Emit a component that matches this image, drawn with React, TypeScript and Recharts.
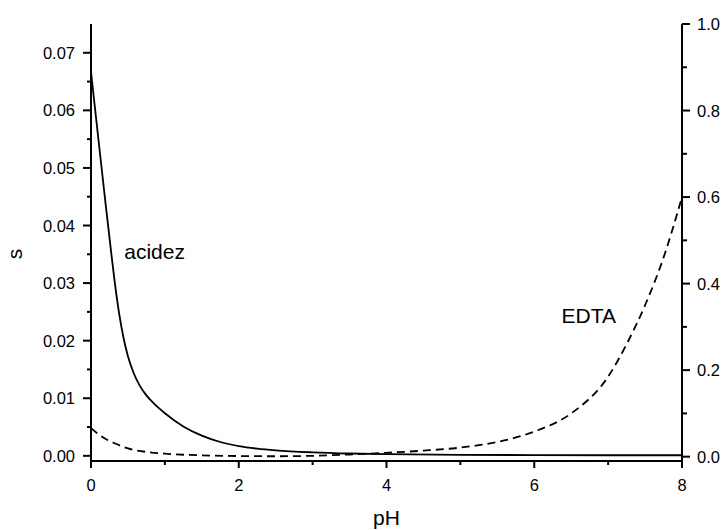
import { LineChart, XAxis, YAxis, Line, ReferenceDot } from "recharts";

const FONT = "'Liberation Sans', Arial, sans-serif";

// solid curve, left axis
const acidezPH = [0, 0.1, 0.2, 0.27, 0.32, 0.38, 0.44, 0.5, 0.58, 0.66, 0.75, 0.85, 1.0, 1.25, 1.5, 1.75, 2.0, 2.25, 2.5, 3.0, 3.5, 4.0, 5.0, 6.0, 7.0, 8.0];
const acidezS = [0.0667, 0.055, 0.0435, 0.0357, 0.0303, 0.0248, 0.0205, 0.0173, 0.0143, 0.0122, 0.0105, 0.0091, 0.0074, 0.0051, 0.0035, 0.0024, 0.0017, 0.00125, 0.00095, 0.0006, 0.0004, 0.0003, 0.00018, 0.00012, 0.0001, 0.0001];

// dashed curve, right axis
const edtaPH = [0, 0.1, 0.23, 0.32, 0.5, 0.8, 1.0, 1.5, 2.0, 2.5, 3.0, 3.5, 4.0, 4.5, 5.0, 5.5, 6.0, 6.5, 7.0, 7.25, 7.5, 7.75, 8.0];
const edtaV = [0.066, 0.052, 0.038, 0.031, 0.019, 0.01, 0.007, 0.003, 0.0015, 0.001, 0.002, 0.005, 0.009, 0.014, 0.021, 0.034, 0.058, 0.1, 0.185, 0.26, 0.35, 0.46, 0.6];

const xTicks = [0, 1, 2, 3, 4, 5, 6, 7, 8];
const leftTicks = [0, 0.005, 0.01, 0.015, 0.02, 0.025, 0.03, 0.035, 0.04, 0.045, 0.05, 0.055, 0.06, 0.065, 0.07];
const rightTicks = [0, 0.1, 0.2, 0.3, 0.4, 0.5, 0.6, 0.7, 0.8, 0.9, 1.0];

const acidezData = acidezPH.map((p, i) => ({ pH: p, s: acidezS[i] }));
const edtaData = edtaPH.map((p, i) => ({ pH: p, v: edtaV[i] }));

const tickText = { fontFamily: FONT, fontSize: 16.5, fill: "#000" };

const BottomTick = (props: any) => {
  const { x, y, payload } = props;
  const major = Math.round(payload.value) % 2 === 0;
  return (
    <g>
      <line x1={x} x2={x} y1={y} y2={y + (major ? 7 : 4)} stroke="#000" strokeWidth={2} />
      {major && (
        <text x={x} y={y + 30} textAnchor="middle" {...tickText}>
          {payload.value}
        </text>
      )}
    </g>
  );
};

const TopTick = (props: any) => {
  const { x, y, payload } = props;
  const major = Math.round(payload.value) % 2 === 0;
  return <line x1={x} x2={x} y1={y} y2={y + (major ? 8 : 4)} stroke="#000" strokeWidth={2} />;
};

const LeftTick = (props: any) => {
  const { x, y, payload } = props;
  const major = Math.round(payload.value * 1000) % 10 === 0;
  return (
    <g>
      <line x1={x - (major ? 8 : 4)} x2={x} y1={y} y2={y} stroke="#000" strokeWidth={2} />
      {major && (
        <text x={x - 16} y={y + 6} textAnchor="end" {...tickText}>
          {payload.value.toFixed(2)}
        </text>
      )}
    </g>
  );
};

const RightTick = (props: any) => {
  const { x, y, payload } = props;
  const major = Math.round(payload.value * 10) % 2 === 0;
  return (
    <g>
      <line x1={x} x2={x + (major ? 8 : 5)} y1={y} y2={y} stroke="#000" strokeWidth={2} />
      {major && (
        <text x={x + 15} y={y + 6} textAnchor="start" {...tickText}>
          {payload.value.toFixed(1)}
        </text>
      )}
    </g>
  );
};

const axisLine = { stroke: "#000", strokeWidth: 2 };

export default function App() {
  return (
    <div style={{ position: "absolute", left: 0, top: 0, background: "#fff" }}>
      <LineChart width={724} height={530} margin={{ top: 24, right: 0, bottom: 0, left: 0 }}>
        <XAxis
          dataKey="pH"
          type="number"
          domain={[0, 8]}
          ticks={xTicks}
          interval={0}
          height={69}
          tickSize={0}
          tickMargin={0}
          tickLine={false}
          axisLine={axisLine}
          tick={BottomTick}
          allowDataOverflow
          label={{
            content: ({ viewBox }: any) => (
              <text
                x={viewBox.x + viewBox.width / 2}
                y={viewBox.y + 64}
                textAnchor="middle"
                fontFamily={FONT}
                fontSize={21}
                fill="#000"
              >
                pH
              </text>
            ),
          }}
        />
        <XAxis
          xAxisId="top"
          orientation="top"
          type="number"
          domain={[0, 8]}
          ticks={xTicks}
          interval={0}
          height={0}
          tickSize={0}
          tickMargin={0}
          tickLine={false}
          axisLine={axisLine}
          tick={TopTick}
          allowDataOverflow
        />
        <YAxis
          yAxisId="left"
          type="number"
          domain={[-0.0009, 0.075]}
          ticks={leftTicks}
          interval={0}
          width={91}
          tickSize={0}
          tickMargin={0}
          tickLine={false}
          axisLine={axisLine}
          tick={LeftTick}
          allowDataOverflow
          label={{
            content: ({ viewBox }: any) => (
              <text
                x={viewBox.x + 22}
                y={254}
                transform={`rotate(-90, ${viewBox.x + 22}, 254)`}
                textAnchor="middle"
                fontFamily={FONT}
                fontSize={21}
                fill="#000"
              >
                s
              </text>
            ),
          }}
        />
        <YAxis
          yAxisId="right"
          orientation="right"
          type="number"
          domain={[-0.01, 1.0]}
          ticks={rightTicks}
          interval={0}
          width={42}
          tickSize={0}
          tickMargin={0}
          tickLine={false}
          axisLine={axisLine}
          tick={RightTick}
          allowDataOverflow
        />
        <Line
          data={acidezData}
          yAxisId="left"
          dataKey="s"
          type="monotone"
          stroke="#000"
          strokeWidth={1.8}
          dot={false}
          isAnimationActive={false}
        />
        <Line
          data={edtaData}
          yAxisId="right"
          dataKey="v"
          type="monotone"
          stroke="#000"
          strokeWidth={1.8}
          strokeDasharray="8 5"
          dot={false}
          isAnimationActive={false}
        />
        <ReferenceDot
          x={0.45}
          y={0.0342}
          yAxisId="left"
          r={0}
          shape={(p: any) => (
            <text x={p.cx} y={p.cy} fontFamily={FONT} fontSize={21} fill="#000">
              acidez
            </text>
          )}
        />
        <ReferenceDot
          x={6.37}
          y={0.308}
          yAxisId="right"
          r={0}
          shape={(p: any) => (
            <text x={p.cx} y={p.cy} fontFamily={FONT} fontSize={21} fill="#000">
              EDTA
            </text>
          )}
        />
      </LineChart>
    </div>
  );
}
